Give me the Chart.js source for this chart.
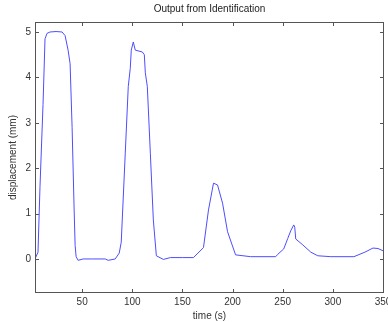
<!DOCTYPE html>
<html>
<head>
<meta charset="utf-8">
<script src="https://cdn.jsdelivr.net/npm/chart.js@4"></script>
<style>
    html, body { margin: 0; padding: 0; background: #fff; }
    #wrap { width: 388px; height: 322px; }
</style>
</head>
<body>
<div id="wrap"><canvas id="c"></canvas></div>
<script>
// values
const timeS = [3, 6, 8, 11, 13, 15, 18, 24, 30, 33, 36, 38, 40, 42, 43, 44, 46, 51, 60, 73, 76, 83, 87, 89, 93, 96, 98, 99, 101, 103, 110, 112, 113, 115, 118, 121, 124, 131, 138, 150, 161, 171, 176, 181, 185, 190, 195, 203, 218, 243, 245, 251, 255, 258, 261, 262, 263, 270, 278, 285, 298, 321, 332, 340, 345, 350];
const displacementMm = [0.0, 0.15, 1.6, 3.4, 4.85, 4.97, 5.0, 5.01, 5.0, 4.92, 4.6, 4.3, 2.9, 1.1, 0.3, 0.05, -0.03, 0.0, 0.0, 0.0, -0.03, 0.0, 0.13, 0.37, 2.33, 3.8, 4.2, 4.6, 4.78, 4.6, 4.56, 4.5, 4.1, 3.8, 2.33, 0.86, 0.07, -0.01, 0.03, 0.03, 0.03, 0.25, 1.08, 1.67, 1.63, 1.23, 0.6, 0.09, 0.05, 0.05, 0.1, 0.22, 0.45, 0.62, 0.75, 0.7, 0.44, 0.31, 0.15, 0.07, 0.05, 0.05, 0.15, 0.24, 0.23, 0.18];
const xTicks = [50, 100, 150, 200, 250, 300, 350];
const yTicks = [0, 1, 2, 3, 4, 5];

const FONT = "Liberation Sans, Arial, sans-serif";
const TEXT = "#333";

// matlab style box with inward ticks on all four sides
const framePlugin = {
    id: "frame",
    afterDatasetsDraw(chart) {
        const { ctx, chartArea: a, scales: { x, y } } = chart;
        const len = 4;
        ctx.save();
        ctx.strokeStyle = "#555";
        ctx.lineWidth = 1;
        ctx.strokeRect(a.left + 0.5, a.top + 0.5, a.width - 1, a.height - 1);
        ctx.beginPath();
        xTicks.forEach(v => {
            const px = Math.round(x.getPixelForValue(v)) + 0.5;
            ctx.moveTo(px, a.bottom); ctx.lineTo(px, a.bottom - len);
            ctx.moveTo(px, a.top); ctx.lineTo(px, a.top + len);
        });
        yTicks.forEach(v => {
            const py = Math.round(y.getPixelForValue(v)) + 0.5;
            ctx.moveTo(a.left, py); ctx.lineTo(a.left + len, py);
            ctx.moveTo(a.right, py); ctx.lineTo(a.right - len, py);
        });
        ctx.stroke();
        ctx.restore();
    }
};

new Chart(document.getElementById("c"), {
    type: "line",
    data: {
        datasets: [{
            data: timeS.map((t, i) => ({ x: t, y: displacementMm[i] })),
            borderColor: "#4d4dff",
            borderWidth: 1,
            pointRadius: 0,
            tension: 0,
            fill: false
        }]
    },
    options: {
        responsive: true,
        maintainAspectRatio: false,
        animation: false,
        events: [],
        layout: { padding: { right: 4 } },
        plugins: {
            legend: { display: false },
            tooltip: { enabled: false },
            title: {
                display: true,
                text: "Output from Identification",
                fullSize: false,
                color: "#222",
                font: { family: FONT, size: 10, weight: "normal" },
                padding: { top: 3, bottom: 7 }
            }
        },
        scales: {
            x: {
                type: "linear",
                min: 3,
                max: 351,
                afterBuildTicks: s => { s.ticks = xTicks.map(v => ({ value: v })); },
                afterFit: s => { s.height = 29; s.paddingLeft = 0; s.paddingRight = 0; },
                grid: { display: false, drawTicks: false },
                border: { display: false },
                ticks: { autoSkip: false, maxRotation: 0, padding: 3, color: TEXT, font: { family: FONT, size: 10 } },
                title: { display: true, text: "time (s)", color: TEXT, font: { family: FONT, size: 10 }, padding: { top: 0, bottom: 0 } }
            },
            y: {
                min: -0.75,
                max: 5.22,
                afterBuildTicks: s => { s.ticks = yTicks.map(v => ({ value: v })); },
                afterFit: s => { s.width = 35; },
                grid: { display: false, drawTicks: false },
                border: { display: false },
                ticks: { autoSkip: false, padding: 4, color: TEXT, font: { family: FONT, size: 10 } },
                title: { display: true, text: "displacement (mm)", color: TEXT, font: { family: FONT, size: 10 }, padding: { top: 7, bottom: 0 } }
            }
        }
    },
    plugins: [framePlugin]
});
</script>
</body>
</html>
